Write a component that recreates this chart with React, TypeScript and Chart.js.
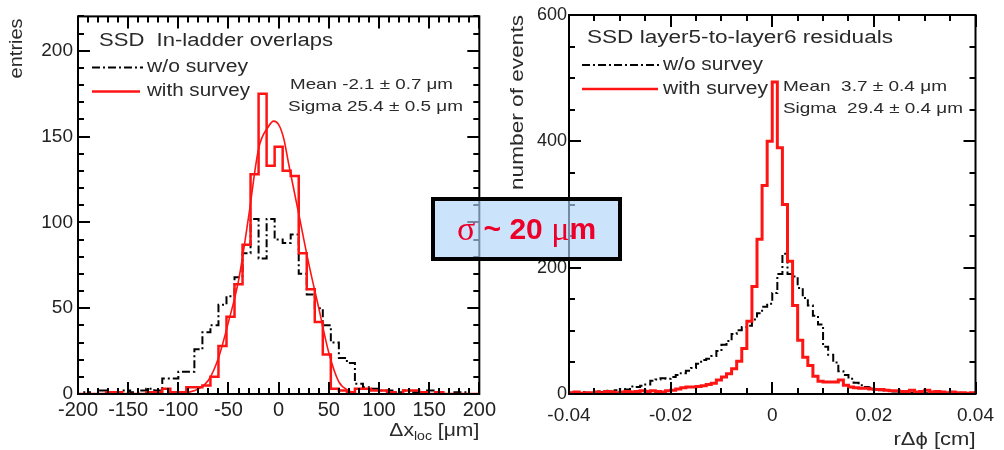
import React, { useEffect, useRef } from "react";
import { Chart, registerables } from "chart.js";

Chart.register(...registerables);

const FONT = "'Liberation Sans', Arial, Helvetica, sans-serif";
const RED = "#ff1414";
const INK = "#2a2a2a";
const DASH_DOT = [8, 3, 2, 3];

// ---------- left panel: SSD in-ladder overlaps ----------
const LEFT_FIRST_EDGE = -204;
const LEFT_BIN_WIDTH = 8;
const LEFT_WITHOUT_SURVEY = [
  0, 1, 0, 2, 1, 1, 2, 1, 2, 3,
  2, 9, 9, 13, 13, 26, 36, 40, 52, 57,
  68, 82, 102, 79, 102, 90, 88, 93, 70, 58,
  50, 40, 30, 21, 18, 6, 4, 3, 2, 2,
  1, 2, 1, 1, 2, 1, 0, 1, 1, 0,
  0,
];
const LEFT_WITH_SURVEY = [
  0, 0, 0, 0, 1, 1, 0, 0, 0, 1,
  1, 3, 1, 1, 4, 4, 5, 10, 28, 45,
  64, 87, 128, 175, 133, 144, 130, 127, 82, 61,
  42, 23, 3, 2, 1, 3, 3, 2, 2, 1,
  0, 2, 2, 1, 0, 1, 0, 0, 0, 0,
  0,
];
const LEFT_FIT_X = [-100, -90, -80, -70, -60, -50, -40, -30, -20, -10, -5, 0, 5, 10, 20, 30, 40, 50, 60, 70, 80, 90, 100];
const LEFT_FIT_Y = [0, 1, 3, 8, 21, 42, 66, 103, 143, 156, 159, 157, 149, 134, 105, 76, 50, 24, 7, 2, 0, 0, 0];
const LEFT_X_TICKS = [-200, -150, -100, -50, 0, 50, 100, 150, 200];
const LEFT_Y_TICKS = [0, 50, 100, 150, 200];

// ---------- right panel: SSD layer5-to-layer6 residuals ----------
const RIGHT_FIRST_EDGE = -0.04;
const RIGHT_BIN_WIDTH = 0.001;
const RIGHT_WITHOUT_SURVEY = [
  2, 1, 3, 2, 2, 4, 3, 5, 4, 6,
  8, 7, 12, 11, 13, 15, 21, 23, 25, 24,
  27, 30, 33, 37, 41, 48, 54, 56, 60, 68,
  78, 84, 95, 101, 106, 108, 118, 128, 138, 143,
  160, 190, 222, 190, 186, 168, 152, 140, 124, 110,
  75, 62, 50, 36, 30, 24, 18, 14, 11, 10,
  7, 6, 6, 4, 4, 3, 3, 2, 3, 2,
  1, 2, 1, 2, 1, 1, 2, 1, 1, 1,
];
const RIGHT_WITH_SURVEY = [
  2, 3, 1, 2, 2, 3, 2, 4, 3, 2,
  3, 4, 3, 4, 5, 4, 5, 4, 3, 5,
  6, 8, 10, 11, 11, 12, 13, 15, 17, 22,
  27, 32, 40, 52, 72, 115, 170, 245, 330, 400,
  494, 390, 300, 210, 140, 85, 58, 45, 28, 20,
  19, 19, 19, 22, 14, 11, 10, 9, 9, 8,
  7, 7, 6, 5, 5, 4, 4, 6, 3, 4,
  6, 3, 4, 3, 2, 3, 2, 2, 1, 2,
];
const RIGHT_X_TICKS = [-0.04, -0.02, 0, 0.02, 0.04];
const RIGHT_Y_TICKS = [0, 200, 400, 600];

function histPoints(first: number, width: number, values: number[]) {
  const pts = values.map((v, i) => ({ x: first + i * width, y: v }));
  pts.push({ x: first + values.length * width, y: values[values.length - 1] });
  return pts;
}

function fitText(
  ctx: CanvasRenderingContext2D,
  s: string,
  x: number,
  y: number,
  size: number,
  width: number,
  opts: { align?: CanvasTextAlign; rotate?: number; color?: string } = {}
) {
  ctx.save();
  ctx.font = `${size}px ${FONT}`;
  ctx.fillStyle = opts.color || INK;
  ctx.textBaseline = "middle";
  ctx.textAlign = opts.align || "left";
  ctx.translate(x, y);
  if (opts.rotate) ctx.rotate(opts.rotate);
  const w = ctx.measureText(s).width;
  ctx.scale(width ? width / w : 1, 1);
  ctx.fillText(s, 0, 0);
  ctx.restore();
}

function legendLine(ctx: CanvasRenderingContext2D, x0: number, x1: number, y: number, color: string, lw: number, dash: number[]) {
  ctx.save();
  ctx.strokeStyle = color;
  ctx.lineWidth = lw;
  ctx.setLineDash(dash);
  ctx.beginPath();
  ctx.moveTo(x0, y);
  ctx.lineTo(x1, y);
  ctx.stroke();
  ctx.restore();
}

function subscriptTitle(ctx: CanvasRenderingContext2D, xRight: number, y: number, width: number) {
  const parts = [
    { t: "Δx", s: 18, dy: 0 },
    { t: "loc", s: 12, dy: 6 },
    { t: " [μm]", s: 18, dy: 0 },
  ];
  ctx.save();
  let total = 0;
  const ws = parts.map((p) => {
    ctx.font = `${p.s}px ${FONT}`;
    const w = ctx.measureText(p.t).width;
    total += w;
    return w;
  });
  const sx = width / total;
  ctx.translate(xRight - width, y);
  ctx.scale(sx, 1);
  ctx.fillStyle = INK;
  ctx.textBaseline = "middle";
  ctx.textAlign = "left";
  let x = 0;
  parts.forEach((p, i) => {
    ctx.font = `${p.s}px ${FONT}`;
    ctx.fillText(p.t, x, p.dy);
    x += ws[i];
  });
  ctx.restore();
}

type FrameCfg = {
  id: string;
  xMajor: number;
  xMinor: number;
  yMajor: number;
  yMinor: number;
  decor: (ctx: CanvasRenderingContext2D, a: any) => void;
};

function makeFramePlugin(cfg: FrameCfg) {
  return {
    id: cfg.id,
    afterDatasetsDraw(chart: any) {
      const { ctx, chartArea: a, scales } = chart;
      const xs = scales.x;
      const ys = scales.y;
      ctx.save();
      ctx.strokeStyle = "#000";
      ctx.lineWidth = 2;
      ctx.setLineDash([]);
      ctx.strokeRect(a.left, a.top, a.right - a.left, a.bottom - a.top);
      ctx.beginPath();
      const nx = Math.round((xs.max - xs.min) / cfg.xMinor);
      for (let i = 0; i <= nx; i++) {
        const v = xs.min + i * cfg.xMinor;
        const r = v / cfg.xMajor;
        const len = Math.abs(r - Math.round(r)) < 1e-6 ? 12 : 6;
        const px = Math.round(xs.getPixelForValue(v));
        ctx.moveTo(px, a.bottom);
        ctx.lineTo(px, a.bottom - len);
        ctx.moveTo(px, a.top);
        ctx.lineTo(px, a.top + len);
      }
      const ny = Math.round((ys.max - ys.min) / cfg.yMinor);
      for (let i = 0; i <= ny; i++) {
        const v = ys.min + i * cfg.yMinor;
        const r = v / cfg.yMajor;
        const len = Math.abs(r - Math.round(r)) < 1e-6 ? 12 : 6;
        const py = Math.round(ys.getPixelForValue(v));
        ctx.moveTo(a.left, py);
        ctx.lineTo(a.left + len, py);
        ctx.moveTo(a.right, py);
        ctx.lineTo(a.right - len, py);
      }
      ctx.stroke();
      ctx.restore();
      cfg.decor(ctx, a);
    },
  };
}

function axisCommon(ticks: number[], fontSize: number, padding: number, fmt: (v: number) => string) {
  return {
    type: "linear" as const,
    afterBuildTicks: (s: any) => {
      s.ticks = ticks.map((v) => ({ value: v }));
    },
    ticks: {
      autoSkip: false,
      maxRotation: 0,
      padding,
      color: "#222",
      font: { family: FONT, size: fontSize },
      callback: (v: any) => fmt(Number(v)),
    },
    grid: { display: false, drawTicks: false },
    border: { display: false },
  };
}

export default function App() {
  const leftRef = useRef<HTMLCanvasElement>(null);
  const rightRef = useRef<HTMLCanvasElement>(null);

  useEffect(() => {
    const left = new Chart(leftRef.current!, {
      type: "line",
      data: {
        datasets: [
          {
            label: "with survey",
            data: histPoints(LEFT_FIRST_EDGE, LEFT_BIN_WIDTH, LEFT_WITH_SURVEY),
            borderColor: RED,
            borderWidth: 2.5,
            stepped: true,
            pointRadius: 0,
            fill: false,
            order: 0,
          },
          {
            label: "fit",
            data: LEFT_FIT_X.map((x, i) => ({ x, y: LEFT_FIT_Y[i] })),
            borderColor: RED,
            borderWidth: 1.6,
            tension: 0.4,
            cubicInterpolationMode: "monotone",
            pointRadius: 0,
            fill: false,
            order: 0,
          },
          {
            label: "w/o survey",
            data: histPoints(LEFT_FIRST_EDGE, LEFT_BIN_WIDTH, LEFT_WITHOUT_SURVEY),
            borderColor: "#000",
            borderWidth: 2,
            borderDash: DASH_DOT,
            stepped: true,
            pointRadius: 0,
            fill: false,
            order: 1,
          },
        ],
      },
      options: {
        responsive: false,
        animation: false,
        layout: { padding: { top: 15, right: 18, left: 0, bottom: 0 } },
        plugins: { legend: { display: false }, tooltip: { enabled: false } },
        scales: {
          x: {
            ...axisCommon(LEFT_X_TICKS, 20, 4, (v) => String(v)),
            min: -200,
            max: 200,
            afterFit: (s: any) => {
              s.height = 56;
            },
          },
          y: {
            ...axisCommon(LEFT_Y_TICKS, 19, 5, (v) => String(v)),
            min: 0,
            max: 220,
            afterFit: (s: any) => {
              s.width = 78;
            },
          },
        },
      } as any,
      plugins: [
        makeFramePlugin({
          id: "frameLeft",
          xMajor: 50,
          xMinor: 10,
          yMajor: 50,
          yMinor: 10,
          decor: (ctx, a) => {
            fitText(ctx, "SSD  In-ladder overlaps", a.left + 21, a.top + 25, 18, 234);
            legendLine(ctx, a.left + 14, a.left + 65, a.top + 51, "#000", 2, DASH_DOT);
            fitText(ctx, "w/o survey", a.left + 69, a.top + 51, 18, 101);
            legendLine(ctx, a.left + 14, a.left + 62, a.top + 75, RED, 2.5, []);
            fitText(ctx, "with survey", a.left + 69, a.top + 75, 18, 103);
            fitText(ctx, "Mean -2.1 ± 0.7 μm", a.left + 212, a.top + 68, 15, 163);
            fitText(ctx, "Sigma 25.4 ± 0.5 μm", a.left + 210, a.top + 90, 15, 175);
            fitText(ctx, "entries", 17, a.top + 2, 18, 60, { rotate: -Math.PI / 2, align: "right" });
            subscriptTitle(ctx, a.right, 431, 90);
          },
        }),
      ],
    });

    const right = new Chart(rightRef.current!, {
      type: "line",
      data: {
        datasets: [
          {
            label: "with survey",
            data: histPoints(RIGHT_FIRST_EDGE, RIGHT_BIN_WIDTH, RIGHT_WITH_SURVEY),
            borderColor: RED,
            borderWidth: 3,
            stepped: true,
            pointRadius: 0,
            fill: false,
            order: 0,
          },
          {
            label: "w/o survey",
            data: histPoints(RIGHT_FIRST_EDGE, RIGHT_BIN_WIDTH, RIGHT_WITHOUT_SURVEY),
            borderColor: "#000",
            borderWidth: 2,
            borderDash: DASH_DOT,
            stepped: true,
            pointRadius: 0,
            fill: false,
            order: 1,
          },
        ],
      },
      options: {
        responsive: false,
        animation: false,
        layout: { padding: { top: 15, right: 22, left: 0, bottom: 0 } },
        plugins: { legend: { display: false }, tooltip: { enabled: false } },
        scales: {
          x: {
            ...axisCommon(RIGHT_X_TICKS, 19, 10, (v) => String(v)),
            min: -0.04,
            max: 0.04,
            afterFit: (s: any) => {
              s.height = 56;
            },
          },
          y: {
            ...axisCommon(RIGHT_Y_TICKS, 18, 2, (v) => String(v)),
            min: 0,
            max: 600,
            afterFit: (s: any) => {
              s.width = 69;
            },
          },
        },
      } as any,
      plugins: [
        makeFramePlugin({
          id: "frameRight",
          xMajor: 0.02,
          xMinor: 0.005,
          yMajor: 200,
          yMinor: 50,
          decor: (ctx, a) => {
            fitText(ctx, "SSD layer5-to-layer6 residuals", a.left + 18, a.top + 23, 18, 306);
            legendLine(ctx, a.left + 13, a.left + 93, a.top + 50, "#000", 2, DASH_DOT);
            fitText(ctx, "w/o survey", a.left + 94, a.top + 50, 18, 100);
            legendLine(ctx, a.left + 13, a.left + 89, a.top + 74, RED, 2.5, []);
            fitText(ctx, "with survey", a.left + 94, a.top + 74, 18, 105);
            fitText(ctx, "Mean  3.7 ± 0.4 μm", a.left + 214, a.top + 72, 15, 164);
            fitText(ctx, "Sigma  29.4 ± 0.4 μm", a.left + 214, a.top + 94, 15, 180);
            fitText(ctx, "number of events", 18, a.top, 18, 175, { rotate: -Math.PI / 2, align: "right" });
            fitText(ctx, "rΔϕ [cm]", a.right, 440, 18, 82, { align: "right" });
          },
        }),
      ],
    });

    return () => {
      left.destroy();
      right.destroy();
    };
  }, []);

  return (
    <div style={{ position: "absolute", left: 0, top: 0, width: 1004, height: 450, background: "#fff", overflow: "hidden" }}>
      <canvas ref={leftRef} width={500} height={450} style={{ position: "absolute", left: 0, top: 0 }} />
      <canvas ref={rightRef} width={504} height={450} style={{ position: "absolute", left: 500, top: 0 }} />
      <div
        style={{
          position: "absolute",
          left: 431,
          top: 197,
          width: 191,
          height: 64,
          boxSizing: "border-box",
          border: "4px solid #000",
          background: "rgba(177,214,249,0.65)",
          display: "flex",
          alignItems: "center",
          justifyContent: "center",
          color: "#ec0029",
          fontFamily: FONT,
          fontWeight: "bold",
          fontSize: 30,
          whiteSpace: "pre",
        }}
      >
        <span style={{ fontFamily: "'Liberation Serif', 'DejaVu Serif', serif", fontWeight: "normal", fontSize: 34 }}>σ</span>
        <span> ~ 20 </span>
        <span style={{ fontFamily: "'Liberation Serif', 'DejaVu Serif', serif", fontWeight: "normal", fontSize: 34 }}>μ</span>
        <span>m</span>
      </div>
    </div>
  );
}
